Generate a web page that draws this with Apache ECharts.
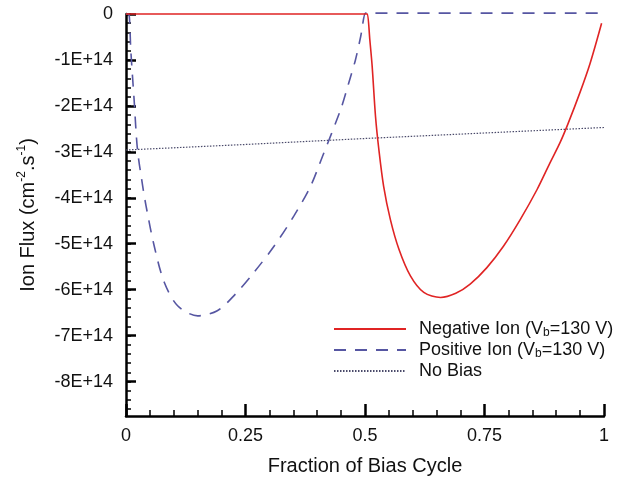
<!DOCTYPE html>
<html>
<head>
<meta charset="utf-8">
<script src="https://cdn.jsdelivr.net/npm/echarts@6/dist/echarts.min.js"></script>
<style>html,body{margin:0;padding:0;background:#fff;}#c{width:634px;height:481px;}</style>
</head>
<body>
<div id="c"></div>
<script>
// ---- data (flux in units of 1E+14 cm^-2 s^-1) ----
const E = 1e14;
const negX = [0, 0.25, 0.5, 0.503, 0.505, 0.510, 0.515, 0.522, 0.529, 0.539, 0.553, 0.571, 0.595, 0.623, 0.658, 0.690, 0.720, 0.755, 0.790, 0.825, 0.860, 0.887, 0.908, 0.925, 0.950, 0.971, 0.995];
const negY = [0, 0, 0, 0, 0, -0.55, -1.14, -2.23, -2.95, -3.75, -4.47, -5.12, -5.70, -6.06, -6.17, -6.08, -5.88, -5.52, -5.05, -4.47, -3.82, -3.24, -2.80, -2.38, -1.70, -1.07, -0.20];
const posX = [0, 0.004, 0.007, 0.010, 0.017, 0.024, 0.035, 0.042, 0.059, 0.080, 0.108, 0.150, 0.191, 0.226, 0.268, 0.310, 0.351, 0.386, 0.411, 0.449, 0.466, 0.480, 0.491, 0.501, 0.504, 0.51, 0.75, 1.0];
const posY = [0, 0, -0.06, -0.78, -1.87, -2.95, -3.75, -4.18, -5.05, -5.84, -6.35, -6.57, -6.46, -6.13, -5.62, -5.05, -4.40, -3.75, -3.10, -2.08, -1.50, -1.00, -0.49, 0.02, 0.02, 0.02, 0.02, 0.02];
const noBiasX = [0, 0.25, 0.5, 0.75, 1.0];
const noBiasY = [-2.96, -2.84, -2.71, -2.59, -2.47];
const seriesNames = ['Negative Ion (Vb=130 V)', 'Positive Ion (Vb=130 V)', 'No Bias'];
const xTicks = [0, 0.25, 0.5, 0.75, 1];
const yMajorTicks = [0, -1, -2, -3, -4, -5, -6, -7, -8];
const yMin = -8.75;

const pair = (xs, ys) => xs.map((x, i) => [x, ys[i] * E]);
const yMinor = [];
for (let k = 0; k * 0.2 <= -yMin; k++) yMinor.push(-k * 0.2 * E);

const FONT = 'Liberation Sans, Arial, Helvetica, sans-serif';
const chart = echarts.init(document.getElementById('c'), null, {renderer: 'canvas'});
chart.setOption({
  animation: false,
  backgroundColor: '#fff',
  grid: {left: 126, right: 30, top: 14, bottom: 64, containLabel: false},
  legend: {
    orient: 'vertical', left: 333, top: 320, padding: 0,
    itemWidth: 72, itemHeight: 14, itemGap: 2,
    data: seriesNames,
    itemStyle: {opacity: 0},
    formatter: function (n) {
      if (n === seriesNames[2]) return '{t|No Bias}';
      const pre = n.split('Vb')[0];
      const post = n.split('Vb')[1];
      return '{t|' + pre + 'V}{sub|b}{u|' + post + '}';
    },
    textStyle: {
      fontFamily: FONT, fontSize: 18, color: '#111',
      rich: {
        t: {fontFamily: FONT, fontSize: 18, color: '#111', padding: [0, 0, 0, 8], lineHeight: 20},
        u: {fontFamily: FONT, fontSize: 18, color: '#111', lineHeight: 20},
        sub: {fontFamily: FONT, fontSize: 12, color: '#111', lineHeight: 12, verticalAlign: 'bottom'}
      }
    }
  },
  xAxis: {
    type: 'value', min: 0, max: 1, interval: 0.25,
    name: 'Fraction of Bias Cycle', nameLocation: 'middle', nameGap: 40,
    nameTextStyle: {fontFamily: FONT, fontSize: 20, color: '#111'},
    axisLine: {show: true, onZero: false, lineStyle: {color: '#000', width: 2.5}},
    axisTick: {show: true, inside: true, length: 12, lineStyle: {color: '#000', width: 2.5}},
    minorTick: {show: true, splitNumber: 5, length: 6, lineStyle: {color: '#000', width: 1.5}},
    axisLabel: {fontFamily: FONT, fontSize: 18, color: '#111', margin: 11,
      customValues: xTicks},
    splitLine: {show: false}
  },
  yAxis: [{
    type: 'value', min: yMin * E, max: 0,
    name: '{n|Ion Flux (cm}{s|-2}{n|.s}{s|-1}{n|)}', nameLocation: 'middle', nameGap: 86, nameRotate: 90,
    nameTextStyle: {fontFamily: FONT, fontSize: 20, color: '#111',
      rich: {
        n: {fontFamily: FONT, fontSize: 20, color: '#111', lineHeight: 24},
        s: {fontFamily: FONT, fontSize: 12, color: '#111', lineHeight: 12, verticalAlign: 'top'}
      }},
    axisLine: {show: true, onZero: false, lineStyle: {color: '#000', width: 2.5}},
    axisTick: {show: true, inside: true, length: 10, lineStyle: {color: '#000', width: 2.5},
      customValues: yMajorTicks.map(v => v * E)},
    axisLabel: {fontFamily: FONT, fontSize: 18, color: '#111', margin: 13,
      customValues: yMajorTicks.map(v => v * E),
      formatter: v => { const m = Math.round(v / E); return m === 0 ? '0' : m + 'E+14'; }},
    splitLine: {show: false}
  }, {
    type: 'value', min: yMin * E, max: 0, position: 'left',
    axisLine: {show: false},
    axisTick: {show: true, inside: true, length: 5, lineStyle: {color: '#000', width: 1.5},
      customValues: yMinor},
    axisLabel: {show: false, customValues: yMinor},
    splitLine: {show: false}
  }],
  series: [{
    name: seriesNames[0], type: 'line', data: pair(negX, negY), showSymbol: false, symbol: 'none',
    smooth: 0.3, clip: false,
    lineStyle: {color: '#e02424', width: 1.6}, itemStyle: {color: '#e02424'}, z: 3
  }, {
    name: seriesNames[1], type: 'line', data: pair(posX, posY), showSymbol: false, symbol: 'none',
    smooth: 0.3, clip: false,
    lineStyle: {color: '#5656a2', width: 1.6, type: [12, 9]}, itemStyle: {color: '#5656a2'}, z: 2
  }, {
    name: seriesNames[2], type: 'line', data: pair(noBiasX, noBiasY), showSymbol: false, symbol: 'none',
    clip: false,
    lineStyle: {color: '#4a4a6a', width: 1.2, type: [1.5, 1.5]}, itemStyle: {color: '#4a4a6a'}, z: 1
  }]
});
</script>
</body>
</html>
